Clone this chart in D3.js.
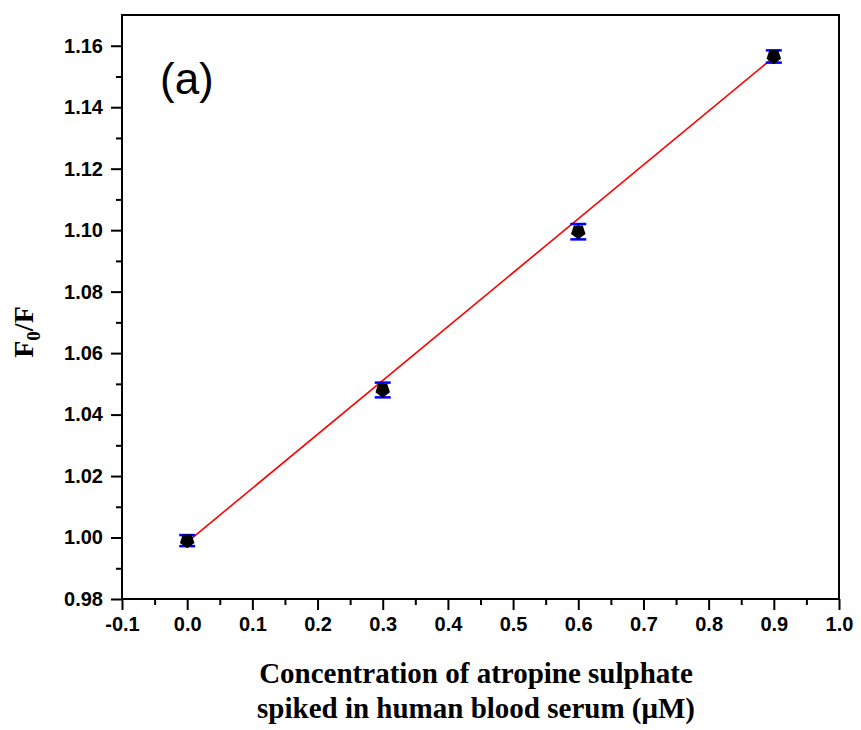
<!DOCTYPE html>
<html>
<head>
<meta charset="utf-8">
<script src="https://cdn.jsdelivr.net/npm/d3@7"></script>
<style>
  body { margin: 0; background: #fff; }
  svg { display: block; }
  .tick text { font-family: "Liberation Sans", Arial, sans-serif; font-weight: bold; font-size: 20px; fill: #000; }
</style>
</head>
<body>
<div id="chart"></div>
<script>
// data
var conc   = [0.0, 0.3, 0.6, 0.9];
var ratio  = [0.999, 1.048, 1.0995, 1.1565];
var errs   = [0.0018, 0.0024, 0.0025, 0.0020];
var fitX   = [0.0, 0.9];
var fitY   = [0.9985, 1.1563];
var xTicks = [-0.1, 0.0, 0.1, 0.2, 0.3, 0.4, 0.5, 0.6, 0.7, 0.8, 0.9, 1.0];
var yTicks = [0.98, 1.00, 1.02, 1.04, 1.06, 1.08, 1.10, 1.12, 1.14, 1.16];

var W = 861, H = 730;
var m = {left: 122, right: 22, top: 15, bottom: 131};

var svg = d3.select("#chart").append("svg").attr("width", W).attr("height", H);

var x = d3.scaleLinear().domain([-0.1, 1.0]).range([m.left, W - m.right]);
var y = d3.scaleLinear().domain([0.98, 1.17]).range([H - m.bottom, m.top]);

// minor ticks
var xMinor = d3.range(-0.05, 1.0, 0.1);
var yMinor = d3.range(0.99, 1.17, 0.02);

function plain(a) {
  a.select(".domain").remove();
  a.selectAll("line").attr("stroke-width", 2);
}

svg.append("g")
  .attr("transform", "translate(0," + (H - m.bottom) + ")")
  .call(d3.axisBottom(x).tickValues(xMinor).tickSize(6).tickFormat(""))
  .call(plain);

svg.append("g")
  .attr("transform", "translate(" + m.left + ",0)")
  .call(d3.axisLeft(y).tickValues(yMinor).tickSize(6).tickFormat(""))
  .call(plain);

svg.append("g")
  .attr("transform", "translate(0," + (H - m.bottom) + ")")
  .call(d3.axisBottom(x).tickValues(xTicks).tickSize(11).tickPadding(7)
    .tickFormat(function(d){ return d.toFixed(1); }))
  .call(plain);

svg.append("g")
  .attr("transform", "translate(" + m.left + ",0)")
  .call(d3.axisLeft(y).tickValues(yTicks).tickSize(11).tickPadding(8)
    .tickFormat(function(d){ return d.toFixed(2); }))
  .call(plain);

// frame
svg.append("rect")
  .attr("x", m.left).attr("y", m.top)
  .attr("width", W - m.right - m.left).attr("height", H - m.bottom - m.top)
  .attr("fill", "none").attr("stroke", "#000").attr("stroke-width", 2);

// fit line
svg.append("line")
  .attr("x1", x(fitX[0])).attr("y1", y(fitY[0]))
  .attr("x2", x(fitX[1])).attr("y2", y(fitY[1]))
  .attr("stroke", "#ff0000").attr("stroke-width", 1.6);

var pts = conc.map(function(c, i){ return {x: c, y: ratio[i], e: errs[i]}; });

// error bars
var eb = svg.append("g").selectAll("g").data(pts).enter().append("g");
eb.append("line")
  .attr("x1", function(d){ return x(d.x); }).attr("x2", function(d){ return x(d.x); })
  .attr("y1", function(d){ return y(d.y - d.e); }).attr("y2", function(d){ return y(d.y + d.e); })
  .attr("stroke", "#0000ff").attr("stroke-width", 2);
[-1, 1].forEach(function(s){
  eb.append("line")
    .attr("x1", function(d){ return x(d.x) - 8; }).attr("x2", function(d){ return x(d.x) + 8; })
    .attr("y1", function(d){ return y(d.y + s * d.e); }).attr("y2", function(d){ return y(d.y + s * d.e); })
    .attr("stroke", "#0000ff").attr("stroke-width", 2.5);
});

// pentagon markers
var pent = d3.symbol().type({
  draw: function(ctx, size) {
    var r = Math.sqrt(size / 2.4);
    for (var k = 0; k < 5; k++) {
      var a = -Math.PI / 2 + k * 2 * Math.PI / 5;
      var px = r * Math.cos(a), py = -r * Math.sin(a);
      if (k === 0) ctx.moveTo(px, py); else ctx.lineTo(px, py);
    }
    ctx.closePath();
  }
}).size(140);

svg.append("g").selectAll("path").data(pts).enter().append("path")
  .attr("d", pent)
  .attr("transform", function(d){ return "translate(" + x(d.x) + "," + y(d.y) + ")"; })
  .attr("fill", "#000");

// panel label
svg.append("text")
  .attr("x", 160).attr("y", 94)
  .style("font-family", "Liberation Sans, Arial, sans-serif")
  .style("font-size", "44px")
  .text("(a)");

// axis titles
var serif = "Liberation Serif, Times New Roman, serif";
svg.append("text")
  .attr("x", 476).attr("y", 683)
  .attr("text-anchor", "middle")
  .style("font-family", serif).style("font-weight", "bold").style("font-size", "29px")
  .text("Concentration of atropine sulphate");
svg.append("text")
  .attr("x", 476).attr("y", 718)
  .attr("text-anchor", "middle")
  .style("font-family", serif).style("font-weight", "bold").style("font-size", "29px")
  .text("spiked in human blood serum (\u03bcM)");

var yt = svg.append("text")
  .attr("transform", "translate(33,332) rotate(-90)")
  .attr("text-anchor", "middle")
  .style("font-family", serif).style("font-weight", "bold").style("font-size", "28px");
yt.append("tspan").text("F");
yt.append("tspan").attr("dy", 7).style("font-size", "19px").text("0");
yt.append("tspan").attr("dy", -7).text("/F");
</script>
</body>
</html>
